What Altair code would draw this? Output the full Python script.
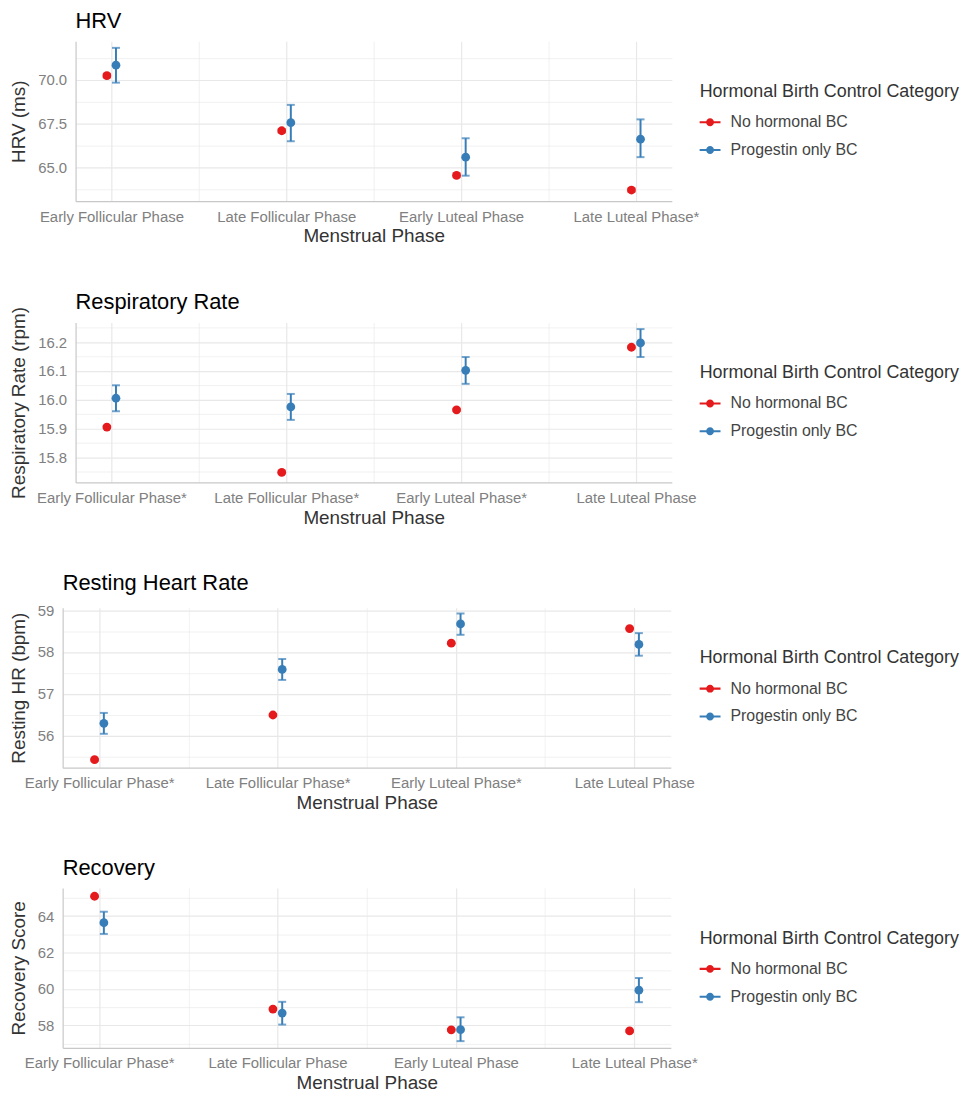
import json
import altair as alt
import pandas as pd

# ---------------- data ----------------
groups = ["No hormonal BC", "Progestin only BC"]
colors = ["#E41A1C", "#377EB8"]

titles = ["HRV", "Respiratory Rate", "Resting Heart Rate", "Recovery"]
y_titles = ["HRV (ms)", "Respiratory Rate (rpm)", "Resting HR (bpm)", "Recovery Score"]
x_title = "Menstrual Phase"
legend_title = "Hormonal Birth Control Category"

x_labels_hrv = ["Early Follicular Phase", "Late Follicular Phase", "Early Luteal Phase", "Late Luteal Phase*"]
x_labels_rr = ["Early Follicular Phase*", "Late Follicular Phase*", "Early Luteal Phase*", "Late Luteal Phase"]
x_labels_hr = ["Early Follicular Phase*", "Late Follicular Phase*", "Early Luteal Phase*", "Late Luteal Phase"]
x_labels_rec = ["Early Follicular Phase*", "Late Follicular Phase", "Early Luteal Phase", "Late Luteal Phase*"]

# HRV
hrv_no_mean = [70.23, 67.08, 64.53, 63.69]
hrv_no_lo = [70.13, 66.98, 64.43, 63.59]
hrv_no_hi = [70.33, 67.18, 64.63, 63.79]
hrv_pr_mean = [70.83, 67.54, 65.57, 66.60]
hrv_pr_lo = [69.83, 66.48, 64.51, 65.57]
hrv_pr_hi = [71.82, 68.56, 66.65, 67.73]

# Respiratory rate
rr_no_mean = [15.905, 15.748, 15.965, 16.182]
rr_no_lo = [15.901, 15.744, 15.961, 16.178]
rr_no_hi = [15.909, 15.752, 15.969, 16.186]
rr_pr_mean = [16.005, 15.975, 16.102, 16.197]
rr_pr_lo = [15.960, 15.930, 16.055, 16.148]
rr_pr_hi = [16.050, 16.020, 16.148, 16.245]

# Resting heart rate
hr_no_mean = [55.42, 56.49, 58.21, 58.56]
hr_no_lo = [55.40, 56.47, 58.19, 58.54]
hr_no_hi = [55.44, 56.51, 58.23, 58.58]
hr_pr_mean = [56.29, 57.58, 58.67, 58.18]
hr_pr_lo = [56.04, 57.33, 58.41, 57.91]
hr_pr_hi = [56.54, 57.83, 58.92, 58.45]

# Recovery
rec_no_mean = [65.09, 58.89, 57.75, 57.69]
rec_no_lo = [65.04, 58.84, 57.70, 57.64]
rec_no_hi = [65.14, 58.94, 57.80, 57.74]
rec_pr_mean = [63.64, 58.67, 57.76, 59.93]
rec_pr_lo = [63.02, 58.04, 57.13, 59.27]
rec_pr_hi = [64.24, 59.29, 58.44, 60.60]

y_domains = [[63.05, 72.2], [15.713, 16.268], [55.23, 59.06], [56.76, 65.55]]
y_major = [[65, 67.5, 70], [15.8, 15.9, 16.0, 16.1, 16.2], [56, 57, 58, 59], [58, 60, 62, 64]]
y_minor = [[63.75, 66.25, 68.75, 71.25], [15.75, 15.85, 15.95, 16.05, 16.15, 16.25],
           [55.5, 56.5, 57.5, 58.5], [57, 59, 61, 63, 65]]
y_formats = [".1f", ".1f", "d", "d"]

panels = [
    (x_labels_hrv, hrv_no_mean, hrv_no_lo, hrv_no_hi, hrv_pr_mean, hrv_pr_lo, hrv_pr_hi),
    (x_labels_rr, rr_no_mean, rr_no_lo, rr_no_hi, rr_pr_mean, rr_pr_lo, rr_pr_hi),
    (x_labels_hr, hr_no_mean, hr_no_lo, hr_no_hi, hr_pr_mean, hr_pr_lo, hr_pr_hi),
    (x_labels_rec, rec_no_mean, rec_no_lo, rec_no_hi, rec_pr_mean, rec_pr_lo, rec_pr_hi),
]

# ---------------- style ----------------
FONT = "Liberation Sans"
dodge = [-0.026, 0.026]
widths = [600, 600, 612, 612]
plot_h = 161
legend_sym = "M-1,-0.1L1,-0.1L1,0.1L-1,0.1Z M0.38,0A0.38,0.38 0 1,1 -0.38,0A0.38,0.38 0 1,1 0.38,0Z"
legend_x = [628, 628, 641, 641]
title_offsets = [8, -8, 8, 8]


def make_panel(i):
    labels, nm, nl, nh, pm, pl, ph = panels[i]
    rows = []
    for g, (m, lo, hi) in enumerate([(nm, nl, nh), (pm, pl, ph)]):
        for k in range(4):
            rows.append({"group": groups[g], "order": g, "idx": k,
                         "mean": m[k], "lo": lo[k], "hi": hi[k]})
    df = pd.DataFrame(rows)

    x_vals = [0, 0.5, 1, 1.5, 2, 2.5, 3]
    x_axis = alt.Axis(
        values=x_vals,
        labelExpr="datum.value % 1 === 0 ? " + json.dumps(labels) + "[datum.value] : ''",
        title=x_title,
        gridWidth={"condition": {"test": "datum.value % 1 === 0", "value": 1.2}, "value": 0.6},
        labelFlush=False,
        labelOverlap=False,
        labelPadding=8,
        titlePadding=3,
    )
    major = y_major[i]
    vals = sorted(major + y_minor[i])
    test = "indexof(" + json.dumps(major) + ", datum.value) >= 0"
    y_axis = alt.Axis(
        values=vals,
        labelExpr=test + " ? format(datum.value, '" + y_formats[i] + "') : ''",
        title=y_titles[i],
        gridWidth={"condition": {"test": test, "value": 1.2}, "value": 0.6},
        labelOverlap=False,
        labelPadding=9,
        titlePadding=9,
    )
    xs = alt.X("xpos:Q", scale=alt.Scale(domain=[-0.205, 3.205], nice=False, zero=False), axis=x_axis)
    yscale = alt.Scale(domain=y_domains[i], nice=False, zero=False)
    cscale = alt.Scale(domain=groups, range=colors)

    base = alt.Chart(df).transform_calculate(
        xpos="datum.idx + (datum.order === 0 ? %f : %f)" % (dodge[0], dodge[1])
    )
    layers = []
    for g in range(2):
        sub = base.transform_filter(alt.datum.order == g)
        layers.append(sub.mark_rule(strokeWidth=2, color=colors[g]).encode(
            x=xs, y=alt.Y("lo:Q", scale=yscale, axis=y_axis), y2="hi:Q"))
        layers.append(sub.mark_tick(orient="horizontal", size=8, thickness=2, color=colors[g]).encode(
            x=xs, y=alt.Y("lo:Q", scale=yscale, axis=y_axis)))
        layers.append(sub.mark_tick(orient="horizontal", size=8, thickness=2, color=colors[g]).encode(
            x=xs, y=alt.Y("hi:Q", scale=yscale, axis=y_axis)))
    pts = base.mark_point(filled=True, size=78, opacity=1).encode(
        x=xs,
        y=alt.Y("mean:Q", scale=yscale, axis=y_axis),
        color=alt.Color(
            "group:N", scale=cscale,
            legend=alt.Legend(
                title=legend_title, orient="none", legendX=legend_x[i], legendY=42,
                symbolType=legend_sym, symbolSize=441, symbolStrokeWidth=0, symbolOpacity=1,
                titleFontSize=18, titleFont=FONT, titleFontWeight="normal", titleColor="#333333",
                titleLimit=400, titlePadding=11,
                labelFontSize=16, labelFont=FONT, labelColor="#444444", labelOffset=10,
                rowPadding=9, padding=0,
            ),
        ),
        order=alt.Order("order:Q"),
    )
    layers.append(pts)
    layered = alt.layer(*layers).properties(
        width=widths[i], height=plot_h,
        title=alt.TitleParams(titles[i], anchor="start", frame="group", fontSize=22,
                              font=FONT, fontWeight="normal", color="#000000",
                              offset=title_offsets[i]),
    )
    spacer = alt.Chart(pd.DataFrame({"a": [0]})).mark_point(opacity=0).encode(
        x=alt.X("a:Q", axis=None), y=alt.Y("a:Q", axis=None)
    ).properties(width=1, height=1)
    return alt.hconcat(spacer, layered, spacing=0).resolve_scale(
        color="independent").resolve_legend(color="independent")


chart = alt.vconcat(
    *[make_panel(i) for i in range(4)],
    spacing=45,
).resolve_scale(
    color="independent"
).resolve_legend(
    color="independent"
).properties(
    padding={"left": -6, "top": -1, "right": 0, "bottom": 0},
    background="white",
).configure_view(
    stroke=None
).configure_axis(
    labelFont=FONT, titleFont=FONT,
    labelFontSize=15, labelColor="#808080",
    titleFontSize=19, titleColor="#333333", titleFontWeight="normal",
    gridColor="#e8e8e8",
    domainColor="#c8c8c8", domainWidth=1.2,
    ticks=False,
)

chart.save("out.html", embed_options={"renderer": "svg", "actions": False})
